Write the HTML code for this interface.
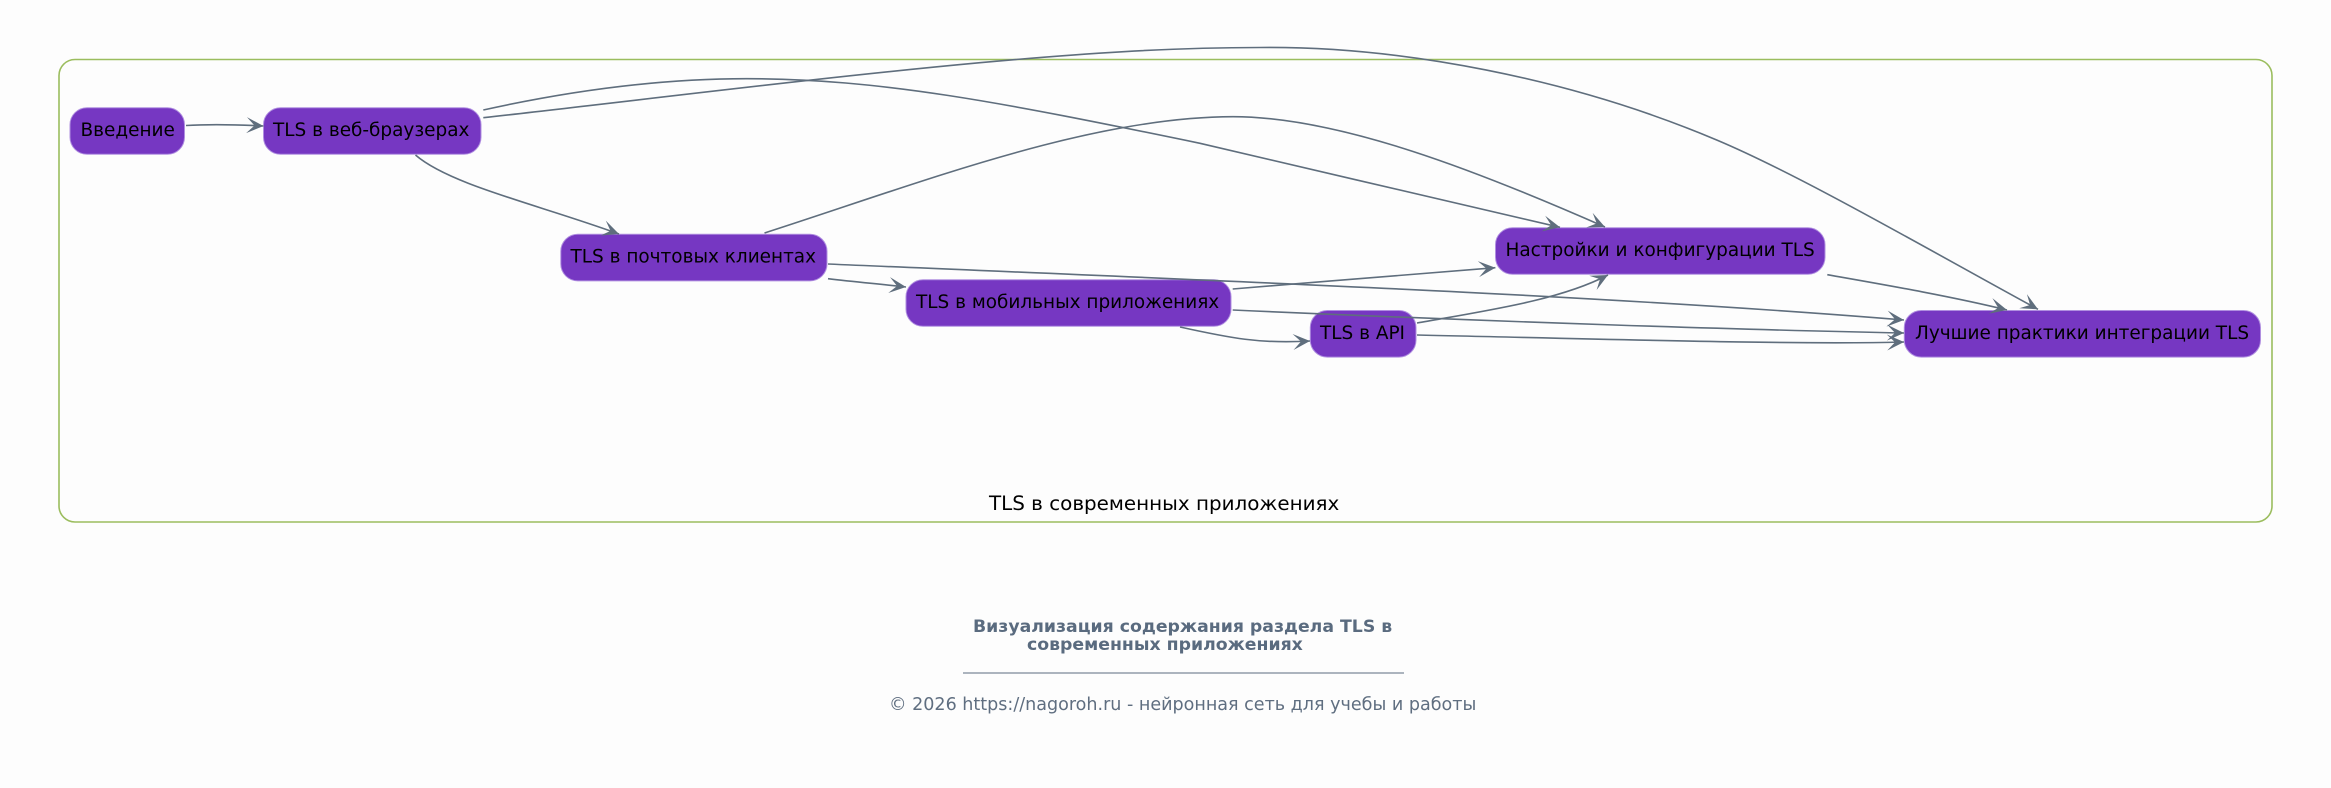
<!DOCTYPE html>
<html><head><meta charset="utf-8"><style>
html,body{margin:0;padding:0;background:#fdfdfd;width:2331px;height:788px;overflow:hidden}
svg{display:block}
text{font-family:"DejaVu Sans","Liberation Sans",sans-serif}
.n{fill:#7637c2;stroke:#b08fe0;stroke-width:1}
.l{font-size:18.45px;fill:#000}
.e{fill:none;stroke:#5f6e7d;stroke-width:1.6}
</style></head><body>
<svg width="2331" height="788" viewBox="0 0 2331 788" xmlns="http://www.w3.org/2000/svg">
<defs><marker id="a" markerUnits="userSpaceOnUse" markerWidth="22" markerHeight="22" refX="17" refY="9" orient="auto"><path d="M0,1 L17,9 L0,17 L8,9 Z" fill="#5f6e7d"/></marker></defs>
<rect width="2331" height="788" fill="#fdfdfd"/>
<rect x="59" y="59.5" width="2213" height="462.5" rx="16" ry="16" fill="#fdfdfd" stroke="#9bbd5e" stroke-width="1.6"/>
<rect class="n" x="70" y="107.7" width="114.5" height="46.6" rx="17"/>
<rect class="n" x="263.5" y="107.7" width="217.5" height="46.6" rx="17"/>
<rect class="n" x="560.8" y="234.3" width="266.2" height="46.6" rx="17"/>
<rect class="n" x="906" y="279.7" width="325" height="46.6" rx="17"/>
<rect class="n" x="1310.3" y="310.5" width="105.7" height="46.6" rx="17"/>
<rect class="n" x="1495.5" y="227.7" width="329.5" height="46.6" rx="17"/>
<rect class="n" x="1904.3" y="310.5" width="356.2" height="46.6" rx="17"/>
<text class="l" x="80.5" y="136">Введение</text>
<text class="l" x="273" y="136">TLS в веб-браузерах</text>
<text class="l" x="570.5" y="262.5">TLS в почтовых клиентах</text>
<text class="l" x="916" y="308">TLS в мобильных приложениях</text>
<text class="l" x="1320" y="339">TLS в API</text>
<text class="l" x="1505.5" y="256">Настройки и конфигурации TLS</text>
<text class="l" x="1915" y="339">Лучшие практики интеграции TLS</text>
<path class="e" marker-end="url(#a)" d="M186,125.5 C210,124 235,124.5 263.5,126"/>
<path class="e" marker-end="url(#a)" d="M415.5,155 C450,185 540,205 619,234"/>
<path class="e" marker-end="url(#a)" d="M483.3,110 C560,93 650,78.7 746.7,78.7 C880,78.7 1000,102 1200,143.3 C1320,171 1440,200 1560,227.3"/>
<path class="e" marker-end="url(#a)" d="M483.3,117.7 C650,99 820,77.5 980,62.7 C1080,53.5 1170,47.5 1260,47.5 C1400,46 1570,78 1716.7,140 C1800,175 1930,250.5 2038,309.3"/>
<path class="e" marker-end="url(#a)" d="M764.5,233 C920,183 1090,116.7 1233,116.7 C1340,116.7 1480,172 1605,227"/>
<path class="e" marker-end="url(#a)" d="M828,264 C1200,280 1600,295 1904,320"/>
<path class="e" marker-end="url(#a)" d="M828,278.7 C855,282 880,284 906,287"/>
<path class="e" marker-end="url(#a)" d="M1232.7,289 C1320,281.5 1410,275 1495.4,267.7"/>
<path class="e" marker-end="url(#a)" d="M1232.7,310 C1500,322 1750,330 1904,333"/>
<path class="e" marker-end="url(#a)" d="M1180,327 C1230,338 1260,344 1310,341"/>
<path class="e" marker-end="url(#a)" d="M1417,323 C1490,310 1560,300 1608,275"/>
<path class="e" marker-end="url(#a)" d="M1417,335 C1600,339 1800,345 1904,342"/>
<path class="e" marker-end="url(#a)" d="M1827.3,274.7 C1880,284 1950,296 2007,310"/>
<text x="989" y="510" font-size="19.9" fill="#000">TLS в современных приложениях</text>
<text x="973" y="632" font-size="17.3" font-weight="700" fill="#5a6b7f">Визуализация содержания раздела TLS в</text>
<text x="1027" y="650" font-size="17.3" font-weight="700" fill="#5a6b7f">современных приложениях</text>
<line x1="963" y1="673" x2="1404" y2="673" stroke="#5a6b7f" stroke-width="1"/>
<text x="889" y="710" font-size="17.55" fill="#5f6e80">© 2026 https://nagoroh.ru - нейронная сеть для учебы и работы</text>
</svg>
</body></html>
